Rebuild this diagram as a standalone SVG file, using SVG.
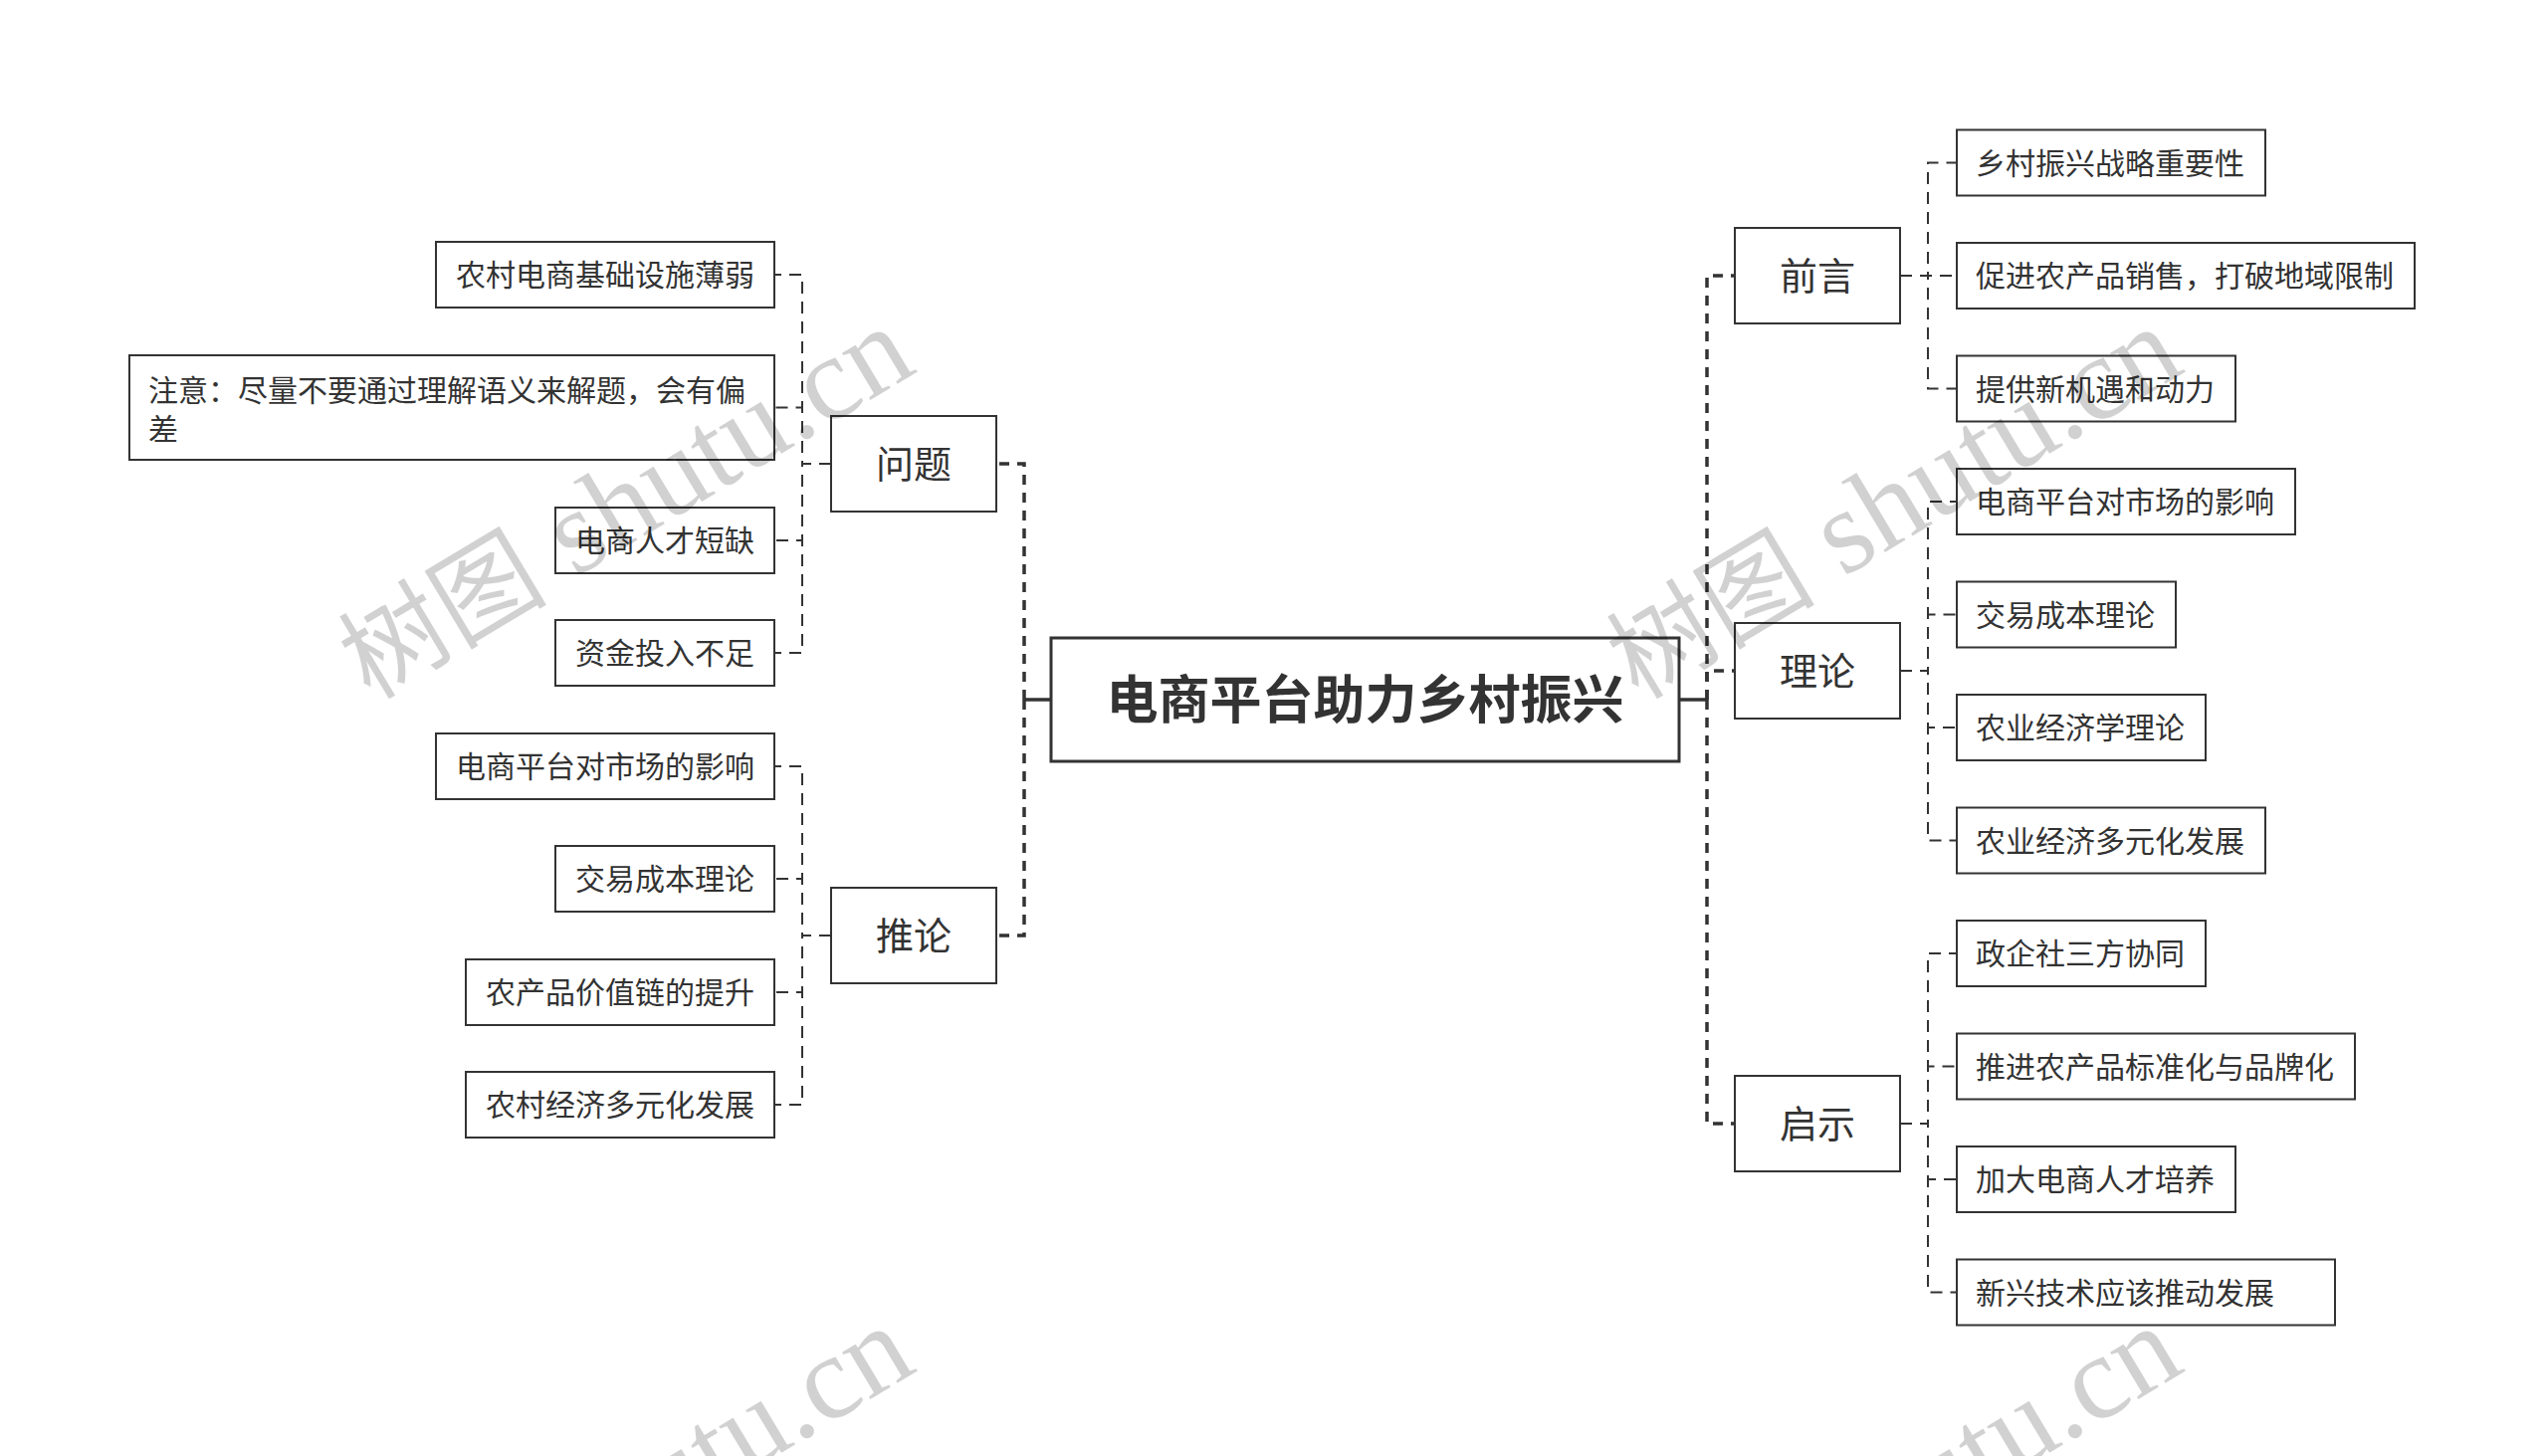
<svg xmlns="http://www.w3.org/2000/svg" width="2560" height="1463" viewBox="0 0 2560 1463">
<style>
.bx{fill:#fff;stroke:#333;stroke-width:2}
.rt{fill:#fff;stroke:#333;stroke-width:3}
.t{font-family:"Noto Sans CJK SC","Noto Sans",sans-serif;fill:#333;font-size:30px}
.tc{text-anchor:middle}
.l1{font-size:38px}
.root{font-size:52px;font-weight:bold}
.ck{fill:none;stroke:#333;stroke-width:3.5;stroke-dasharray:10 8}
.cn{fill:none;stroke:#333;stroke-width:2;stroke-dasharray:12 8}
.cs{fill:none;stroke:#333;stroke-width:3.5}
.wm{font-family:"Liberation Serif","Noto Sans CJK SC",serif;font-size:120px;fill:#000;fill-opacity:0.18}
.wc{font-size:105px}
</style>
<rect width="2560" height="1463" fill="#fff"/>
<g id="connectors">
<path class="cs" d="M1029,703 H1056"/>
<path class="cs" d="M1687,703 H1715"/>
<path class="ck" d="M1029,703 V466 H1001"/>
<path class="ck" d="M1029,703 V940 H1001"/>
<path class="ck" d="M1715,703 V277 H1743"/>
<path class="ck" d="M1715,703 V674 H1743"/>
<path class="ck" d="M1715,703 V1129 H1743"/>
<path class="cn" d="M835,466 H806 V276 H778"/>
<path class="cn" d="M835,466 H806 V409.5 H778"/>
<path class="cn" d="M835,466 H806 V543 H778"/>
<path class="cn" d="M835,466 H806 V656 H778"/>
<path class="cn" d="M835,940 H806 V770 H778"/>
<path class="cn" d="M835,940 H806 V883 H778"/>
<path class="cn" d="M835,940 H806 V997 H778"/>
<path class="cn" d="M835,940 H806 V1110 H778"/>
<path class="cn" d="M1909,277 H1937 V163.5 H1966"/>
<path class="cn" d="M1909,277 H1937 V277 H1966"/>
<path class="cn" d="M1909,277 H1937 V390.5 H1966"/>
<path class="cn" d="M1909,674 H1937 V504 H1966"/>
<path class="cn" d="M1909,674 H1937 V617.5 H1966"/>
<path class="cn" d="M1909,674 H1937 V731 H1966"/>
<path class="cn" d="M1909,674 H1937 V844.5 H1966"/>
<path class="cn" d="M1909,1129 H1937 V958 H1966"/>
<path class="cn" d="M1909,1129 H1937 V1071.5 H1966"/>
<path class="cn" d="M1909,1129 H1937 V1185 H1966"/>
<path class="cn" d="M1909,1129 H1937 V1298.5 H1966"/>
</g>
<g id="root"><rect class="rt" x="1056" y="641" width="631" height="124"/><text class="t tc root" x="1371.5" y="722">电商平台助力乡村振兴</text></g>
<g id="n-wenti"><rect class="bx" x="835" y="418" width="166" height="96"/><text class="t tc l1" x="918" y="480">问题</text></g>
<g id="n-tuilun"><rect class="bx" x="835" y="892" width="166" height="96"/><text class="t tc l1" x="918" y="954">推论</text></g>
<g id="n-qianyan"><rect class="bx" x="1743" y="229" width="166" height="96"/><text class="t tc l1" x="1826" y="291">前言</text></g>
<g id="n-lilun"><rect class="bx" x="1743" y="626" width="166" height="96"/><text class="t tc l1" x="1826" y="688">理论</text></g>
<g id="n-qishi"><rect class="bx" x="1743" y="1081" width="166" height="96"/><text class="t tc l1" x="1826" y="1143">启示</text></g>
<g id="w1"><rect class="bx" x="438" y="243" width="340" height="66"/><text class="t tc" x="608" y="287">农村电商基础设施薄弱</text></g>
<g id="w2"><rect class="bx" x="130" y="357" width="648" height="105"/><text class="t" x="149" y="403">注意：尽量不要通过理解语义来解题，会有偏</text><text class="t" x="149" y="442">差</text></g>
<g id="w3"><rect class="bx" x="558" y="510" width="220" height="66"/><text class="t tc" x="668" y="554">电商人才短缺</text></g>
<g id="w4"><rect class="bx" x="558" y="623" width="220" height="66"/><text class="t tc" x="668" y="667">资金投入不足</text></g>
<g id="t1"><rect class="bx" x="438" y="737" width="340" height="66"/><text class="t tc" x="608" y="781">电商平台对市场的影响</text></g>
<g id="t2"><rect class="bx" x="558" y="850" width="220" height="66"/><text class="t tc" x="668" y="894">交易成本理论</text></g>
<g id="t3"><rect class="bx" x="468" y="964" width="310" height="66"/><text class="t tc" x="623" y="1008">农产品价值链的提升</text></g>
<g id="t4"><rect class="bx" x="468" y="1077" width="310" height="66"/><text class="t tc" x="623" y="1121">农村经济多元化发展</text></g>
<g id="q1"><rect class="bx" x="1966" y="130.5" width="310" height="66"/><text class="t" x="1985" y="174.5">乡村振兴战略重要性</text></g>
<g id="q2"><rect class="bx" x="1966" y="244" width="460" height="66"/><text class="t" x="1985" y="288">促进农产品销售，打破地域限制</text></g>
<g id="q3"><rect class="bx" x="1966" y="357.5" width="280" height="66"/><text class="t" x="1985" y="401.5">提供新机遇和动力</text></g>
<g id="l1"><rect class="bx" x="1966" y="471" width="340" height="66"/><text class="t" x="1985" y="515">电商平台对市场的影响</text></g>
<g id="l2"><rect class="bx" x="1966" y="584.5" width="220" height="66"/><text class="t" x="1985" y="628.5">交易成本理论</text></g>
<g id="l3"><rect class="bx" x="1966" y="698" width="250" height="66"/><text class="t" x="1985" y="742">农业经济学理论</text></g>
<g id="l4"><rect class="bx" x="1966" y="811.5" width="310" height="66"/><text class="t" x="1985" y="855.5">农业经济多元化发展</text></g>
<g id="s1"><rect class="bx" x="1966" y="925" width="250" height="66"/><text class="t" x="1985" y="969">政企社三方协同</text></g>
<g id="s2"><rect class="bx" x="1966" y="1038.5" width="400" height="66"/><text class="t" x="1985" y="1082.5">推进农产品标准化与品牌化</text></g>
<g id="s3"><rect class="bx" x="1966" y="1152" width="280" height="66"/><text class="t" x="1985" y="1196">加大电商人才培养</text></g>
<g id="s4"><rect class="bx" x="1966" y="1265.5" width="380" height="66"/><text class="t" x="1985" y="1309.5">新兴技术应该推动发展</text></g>
<g id="watermark">
<text class="wm" transform="translate(372,704) rotate(-31)"><tspan class="wc">树图</tspan> shutu.cn</text>
<text class="wm" transform="translate(1646,704) rotate(-31)"><tspan class="wc">树图</tspan> shutu.cn</text>
<text class="wm" transform="translate(372,1708) rotate(-31)"><tspan class="wc">树图</tspan> shutu.cn</text>
<text class="wm" transform="translate(1646,1708) rotate(-31)"><tspan class="wc">树图</tspan> shutu.cn</text>
</g>
</svg>
